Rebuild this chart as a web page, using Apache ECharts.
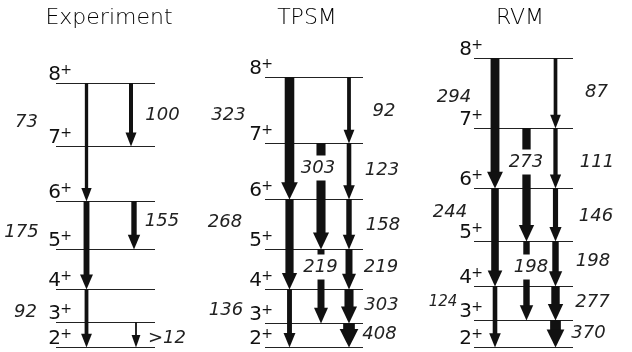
<!DOCTYPE html>
<html><head><meta charset="utf-8">
<script src="https://cdn.jsdelivr.net/npm/echarts@6/dist/echarts.min.js"></script>
<style>html,body{margin:0;padding:0;background:#fff}#c{width:632px;height:352px}</style>
</head><body><div id="c"></div>
<script>
// ---------------- data ----------------
const titles = ['Experiment', 'TPSM', 'RVM'];
const spins = [2, 3, 4, 5, 6, 7, 8];
// relative level energies (arbitrary units, 2+ = 0), for spins 2..8
const levelsExp  = [0, 25, 58, 98, 146, 201, 264];
const levelsTPSM = [0, 24, 58, 98, 148, 204, 270];
const levelsRVM  = [0, 27, 61, 106, 159, 219, 289];
// transitions: [from spin, to spin, B(E2)]
const transExp  = [[8,6,73],[6,4,175],[4,2,92],[8,7,100],[6,5,155],[3,2,12]];
const transTPSM = [[8,6,323],[6,4,268],[4,2,136],[7,5,303],[5,3,219],[8,7,92],[7,6,123],[6,5,158],[5,4,219],[4,3,303],[3,2,408]];
const transRVM  = [[8,6,294],[6,4,244],[4,2,124],[7,5,273],[5,3,198],[8,7,87],[7,6,111],[6,5,146],[5,4,198],[4,3,277],[3,2,370]];
const textExp   = ['73','175','92','100','155','>12'];

// ---------------- layout ----------------
const FONT = 'DejaVu Sans';
const levelX = [[56,155],[265,363],[474,573]];
const spinLabelDx = [15, 7, 8];
const titleX = [109, 307, 520];
const arrowX = [
  [86.5,86.5,86.5,131,134,136],
  [289.5,289.5,289.5,321,321,349,349,349,349,349,349],
  [495,495,495,526.5,526.5,555.5,555.5,555.5,555.5,555.5,555.5]
];
const labelPos = [
  [[26.5,225],[21.5,115],[25.5,35],[162.5,232],[162,125.5],[167,9]],
  [[228.5,232],[225,125],[226,37],[318,179],[320.5,80],[384,236],[382,177],[383,122],[381,80],[381.5,42],[379.5,13]],
  [[454,250],[450,135],[443,45],[526,185],[531,80],[596.5,255],[597,185],[596,131],[593,86],[592.5,45],[588.5,14]]
];
const boxed = [[], [3,4], [3,4]];
const small = [[], [], [2]];

const panelLevels = [levelsExp, levelsTPSM, levelsRVM];
const panelTrans = [transExp, transTPSM, transRVM];
const E = (p, spin) => panelLevels[p][spins.indexOf(spin)];

// build series data
const levelData = [], spinData = [], spinText = [];
panelLevels.forEach((lv, p) => {
  lv.forEach((e, i) => {
    levelData.push([levelX[p][0], levelX[p][1], e]);
    spinData.push([levelX[p][0] + spinLabelDx[p], e]);
    spinText.push(String(spins[i]));
  });
});
const arrowData = [], labData = [], labText = [], labBoxed = [], labSmall = [];
panelTrans.forEach((tr, p) => {
  tr.forEach((t, k) => {
    arrowData.push([arrowX[p][k], E(p, t[0]), E(p, t[1]), t[2]]);
    labData.push([labelPos[p][k][0], labelPos[p][k][1]]);
    labText.push(p === 0 ? textExp[k] : String(t[2]));
    labBoxed.push(boxed[p].indexOf(k) >= 0);
    labSmall.push(small[p].indexOf(k) >= 0);
  });
});

const chart = echarts.init(document.getElementById('c'), null, {renderer: 'canvas'});
chart.setOption({
  animation: false,
  backgroundColor: '#fff',
  grid: {left: 0, right: 0, top: 0, bottom: 0},
  xAxis: {type: 'value', min: 0, max: 632, show: false},
  yAxis: {type: 'value', min: -5, max: 347, show: false},
  graphic: titles.map((t, i) => ({
    type: 'text', x: titleX[i], y: 7,
    style: {text: t, align: 'center', verticalAlign: 'top', fontFamily: FONT, fontSize: 22,
            fontWeight: 300, fill: '#000'}
  })),
  series: [
    {
      type: 'custom', clip: false, z: 1, data: levelData,
      renderItem: (params, api) => {
        const a = api.coord([api.value(0), api.value(2)]);
        const b = api.coord([api.value(1), api.value(2)]);
        const y = Math.round(a[1]) + 0.5;
        return {type: 'line', shape: {x1: a[0], y1: y, x2: b[0], y2: y},
                style: {stroke: '#222', lineWidth: 1}};
      }
    },
    {
      type: 'custom', clip: false, z: 2, data: arrowData,
      renderItem: (params, api) => {
        const top = api.coord([api.value(0), api.value(1)]);
        const bot = api.coord([api.value(0), api.value(2)]);
        const v = api.value(3);
        const w = 1.5 + 0.025 * v;
        const hl = 11 + 0.6 * w, hw = w + 7;
        const x = top[0];
        return {type: 'group', children: [
          {type: 'rect', shape: {x: x - w / 2, y: top[1], width: w, height: bot[1] - hl - top[1] + 1},
           style: {fill: '#111'}},
          {type: 'polygon', shape: {points: [[x - hw / 2, bot[1] - hl], [x + hw / 2, bot[1] - hl], [x, bot[1] + 0.5]]},
           style: {fill: '#111'}}
        ]};
      }
    },
    {
      type: 'custom', clip: false, z: 3, data: labData,
      renderItem: (params, api) => {
        const p = api.coord([api.value(0), api.value(1)]);
        const i = params.dataIndex;
        const st = {text: labText[i], align: 'center', verticalAlign: 'middle',
                    fontFamily: FONT, fontStyle: 'italic', fontSize: labSmall[i] ? 15 : 18, fill: '#222'};
        if (labBoxed[i]) { st.backgroundColor = '#fff'; st.padding = [4, 1, 3, 1]; }
        return {type: 'text', x: p[0], y: p[1], style: st};
      }
    },
    {
      type: 'custom', clip: false, z: 3, data: spinData,
      renderItem: (params, api) => {
        const p = api.coord([api.value(0), api.value(1)]);
        const s = spinText[params.dataIndex];
        return {type: 'group', children: [
          {type: 'text', x: p[0] - 10, y: p[1] + 2, style: {
            text: s, align: 'right', verticalAlign: 'bottom', fontFamily: FONT, fontSize: 20, fill: '#111'}},
          {type: 'text', x: p[0] + 1, y: p[1] - 6, style: {
            text: '+', align: 'right', verticalAlign: 'bottom', fontFamily: FONT, fontSize: 14, fill: '#111'}}
        ]};
      }
    }
  ]
});
</script></body></html>
